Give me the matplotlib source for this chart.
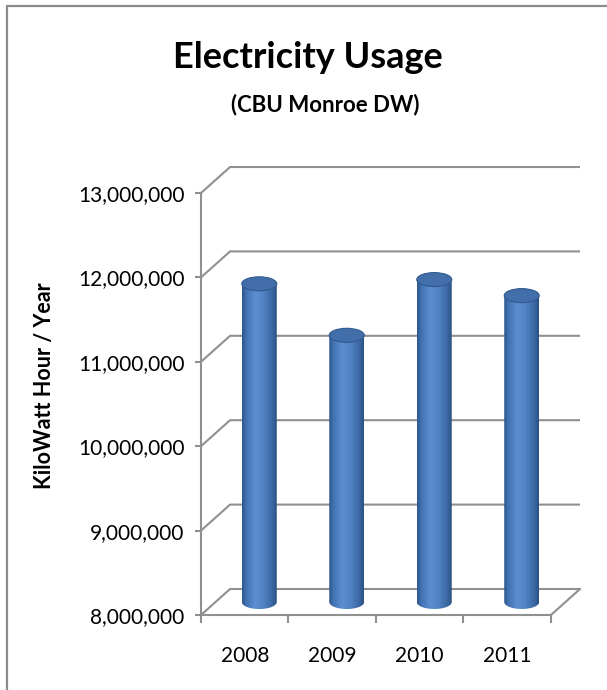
import numpy as np
import matplotlib.pyplot as plt
from matplotlib.path import Path
from matplotlib.patches import PathPatch, Ellipse
from matplotlib.lines import Line2D
from matplotlib.colors import LinearSegmentedColormap
from matplotlib.ticker import FuncFormatter

years = ['2008', '2009', '2010', '2011']
usage = [11.77e6, 11.16e6, 11.82e6, 11.63e6]
y_ticks = [8e6, 9e6, 10e6, 11e6, 12e6, 13e6]

plt.rcParams['font.family'] = 'Lato'

fig = plt.figure(figsize=(6.07, 6.90), dpi=100)
ax = fig.add_axes([201/607, 1 - 615/690, 379/607, 449/690])

# fake 3d depth of the chart box
x_min, x_max = -0.5, len(years) - 0.5
depth_x = 0.332
depth_y = 0.308e6
grid = '#909090'

# back wall gridlines with the diagonal from the front axis
for v in y_ticks:
    ax.plot([x_min, x_min + depth_x, x_max + depth_x], [v, v + depth_y, v + depth_y],
            color=grid, lw=1.5, zorder=1, clip_on=False, solid_capstyle='butt')
ax.plot([x_max, x_max + depth_x], [y_ticks[0], y_ticks[0] + depth_y],
        color=grid, lw=1.5, zorder=1, clip_on=False)

# cylinder bars
cmap = LinearSegmentedColormap.from_list('cyl', [
    (0.0, '#2D568B'), (0.12, '#4273B3'), (0.38, '#5C8FD1'),
    (0.6, '#5384C5'), (0.85, '#3E6BA7'), (1.0, '#2A5185')])
grad = np.linspace(0, 1, 64).reshape(1, -1)
w = 0.40
eh = 0.166e6
base = y_ticks[0] + depth_y / 2
for i, v in enumerate(usage):
    cx = i + depth_x / 2
    top = v + depth_y / 2
    t = np.linspace(np.pi, 2 * np.pi, 40)
    verts = [(cx - w / 2, top)]
    verts += list(zip(cx + w / 2 * np.cos(t), base + eh / 2 * np.sin(t)))
    verts += [(cx + w / 2, top), (cx - w / 2, top)]
    body = PathPatch(Path(verts), facecolor='none', edgecolor='none')
    ax.add_patch(body)
    im = ax.imshow(grad, extent=[cx - w / 2, cx + w / 2, base - eh / 2, top],
                   cmap=cmap, aspect='auto', zorder=3, interpolation='bicubic')
    im.set_clip_path(body)
    ax.add_patch(Ellipse((cx, top), w, eh, facecolor='#426FAA', edgecolor='#30598F',
                         lw=0.8, zorder=4))

ax.set_xlim(x_min, x_max + depth_x)
ax.set_ylim(y_ticks[0], y_ticks[0] + 449 / 84.4 * 1e6)

for s in ['top', 'right']:
    ax.spines[s].set_visible(False)
ax.spines['left'].set_bounds(y_ticks[0], y_ticks[-1])
ax.spines['bottom'].set_bounds(x_min, x_max)
for s in ['left', 'bottom']:
    ax.spines[s].set_color(grid)
    ax.spines[s].set_linewidth(1.5)

ax.set_yticks(y_ticks)
ax.yaxis.set_major_formatter(FuncFormatter(lambda v, p: f'{v:,.0f}'))
ax.tick_params(axis='y', direction='out', length=4, width=1.5, color=grid,
               labelsize=15, pad=8)
ax.set_xticks(np.arange(len(years) + 1) - 0.5)
ax.set_xticklabels([])
ax.set_xticks(np.arange(len(years)), minor=True)
ax.set_xticklabels(years, minor=True)
ax.tick_params(axis='x', which='major', direction='out', length=6, width=1.5, color=grid)
ax.tick_params(axis='x', which='minor', length=0, labelsize=15, pad=22)
ax.patch.set_alpha(0)

ax.set_ylabel('KiloWatt Hour / Year', fontsize=15.5, fontweight='bold')
ax.yaxis.set_label_coords(-0.385, 0.51)

fig.text(308/607, 1 - 58/690, 'Electricity Usage', ha='center', va='center',
         fontsize=26, fontweight='bold')
fig.text(325/607, 1 - 105/690, '(CBU Monroe DW)', ha='center', va='center',
         fontsize=16, fontweight='bold')

# chart border (left and top edges)
fig.add_artist(Line2D([7/607, 7/607, 1], [0, 1 - 6/690, 1 - 6/690],
                      transform=fig.transFigure, color='#8C8C8C', lw=1.6))

fig.savefig('out.png', dpi=100)
